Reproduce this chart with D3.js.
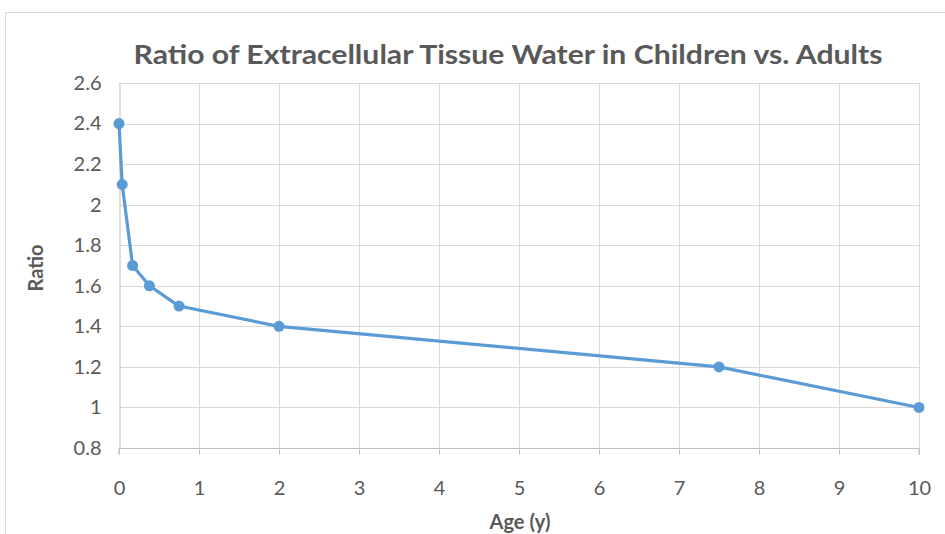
<!DOCTYPE html>
<html>
<head>
<meta charset="utf-8">
<script src="https://cdn.jsdelivr.net/npm/d3@7"></script>
<style>
  body { margin: 0; background: #fff; }
  text { font-family: Lato, "Open Sans", sans-serif; fill: #595959; }
</style>
</head>
<body>
<svg id="chart"></svg>
<script>
var ages = [0, 0.04, 0.17, 0.38, 0.75, 2, 7.5, 10];
var ratios = [2.4, 2.1, 1.7, 1.6, 1.5, 1.4, 1.2, 1.0];
var xTicks = [0, 1, 2, 3, 4, 5, 6, 7, 8, 9, 10];
var yTicks = [0.8, 1, 1.2, 1.4, 1.6, 1.8, 2, 2.2, 2.4, 2.6];

var W = 945, H = 534;
var margin = { top: 83, right: 25, bottom: 86, left: 119 },
    width = W - margin.left - margin.right,
    height = H - margin.top - margin.bottom;

var data = ages.map(function (a, i) { return { age: a, ratio: ratios[i] }; });

var svg = d3.select("#chart").attr("width", W).attr("height", H);

// outer chart frame
svg.append("rect")
    .attr("x", 5.5).attr("y", 12.5)
    .attr("width", W - 4).attr("height", H)
    .attr("fill", "#fff")
    .attr("stroke", "#d9d9d9");

var g = svg.append("g")
    .attr("transform", "translate(" + margin.left + "," + margin.top + ")");

var x = d3.scaleLinear().domain([0, 10]).range([0, width - 1]);
var y = d3.scaleLinear().domain([0.8, 2.6]).range([height, 0]);

// gridlines
g.append("g").selectAll("line.h")
    .data(yTicks.slice(1))
    .join("line")
    .attr("x1", 0).attr("x2", x(10))
    .attr("y1", function (d) { return Math.round(y(d)) + 0.5; })
    .attr("y2", function (d) { return Math.round(y(d)) + 0.5; })
    .attr("stroke", "#d9d9d9");

g.append("g").selectAll("line.v")
    .data(xTicks.slice(1))
    .join("line")
    .attr("y1", 0).attr("y2", height)
    .attr("x1", function (d) { return Math.round(x(d)) + 0.5; })
    .attr("x2", function (d) { return Math.round(x(d)) + 0.5; })
    .attr("stroke", "#d9d9d9");

// x axis
var xAxis = d3.axisBottom(x).tickValues(xTicks).tickSize(6).tickFormat(d3.format("d"));
var xg = g.append("g")
    .attr("transform", "translate(0," + (Math.round(height) + 0.5) + ")")
    .call(xAxis);
xg.select(".domain").attr("stroke", "#bfbfbf").attr("d", "M0,6V0H" + x(10) + "V6");
xg.selectAll(".tick line").attr("stroke", "#bfbfbf");
xg.selectAll(".tick text").attr("dy", "1.85em").style("font-size", "20px").attr("fill", "#595959");

// y axis
var yAxis = d3.axisLeft(y).tickValues(yTicks).tickSize(0).tickPadding(18).tickFormat(d3.format("~g"));
var yg = g.append("g").attr("transform", "translate(0.5,0)").call(yAxis);
yg.select(".domain").attr("stroke", "#bfbfbf");
yg.selectAll(".tick text").style("font-size", "20px").attr("fill", "#595959");

// line
var line = d3.line()
    .x(function (d) { return x(d.age); })
    .y(function (d) { return y(d.ratio); });

g.append("path")
    .datum(data)
    .attr("fill", "none")
    .attr("stroke", "#5b9bd5")
    .attr("stroke-width", 3.2)
    .attr("stroke-linejoin", "round")
    .attr("d", line);

g.selectAll("circle")
    .data(data)
    .join("circle")
    .attr("cx", function (d) { return x(d.age); })
    .attr("cy", function (d) { return y(d.ratio); })
    .attr("r", 5.5)
    .attr("fill", "#5b9bd5");

// titles
svg.append("text")
    .attr("x", 508).attr("y", 64)
    .attr("text-anchor", "middle")
    .attr("textLength", 749)
    .attr("lengthAdjust", "spacingAndGlyphs")
    .style("font-size", "27px")
    .style("font-weight", "bold")
    .text("Ratio of Extracellular Tissue Water in Children vs. Adults");

svg.append("text")
    .attr("x", 520).attr("y", 529)
    .attr("text-anchor", "middle")
    .style("font-size", "20px")
    .style("font-weight", "bold")
    .text("Age (y)");

svg.append("text")
    .attr("transform", "translate(43,268) rotate(-90)")
    .attr("text-anchor", "middle")
    .style("font-size", "20px")
    .style("font-weight", "bold")
    .text("Ratio");
</script>
</body>
</html>
